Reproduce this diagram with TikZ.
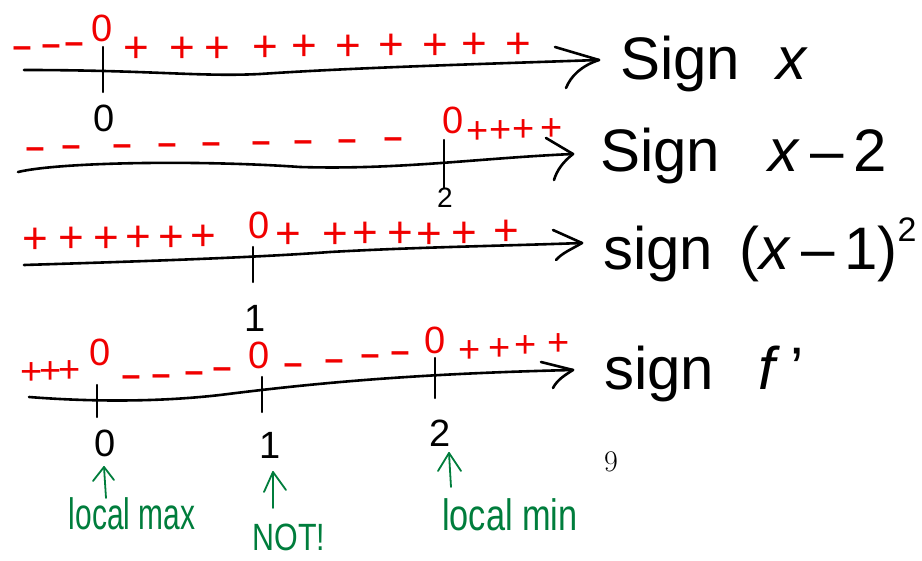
\documentclass[tikz,border=0pt]{standalone}
\usepackage{fontspec}
\newfontfamily\hand{Liberation Sans}
\usetikzlibrary{calc}
\definecolor{inkred}{RGB}{240,0,0}
\definecolor{inkgreen}{RGB}{0,125,60}
\tikzset{
 axisline/.style={line width=2.6pt, line cap=round, line join=round},
 tickline/.style={line width=2.2pt, line cap=round},
 plussign/.style={inkred, font=\hand\fontsize{44}{44}\selectfont, inner sep=0pt},
 smallplus/.style={inkred, font=\hand\fontsize{38}{38}\selectfont, inner sep=0pt},
 minussign/.style={inkred, font=\hand\bfseries\fontsize{34}{34}\selectfont, inner sep=0pt},
 redzero/.style={inkred, font=\hand\fontsize{38}{38}\selectfont, inner sep=0pt},
 ticklabel/.style={font=\hand\fontsize{38}{38}\selectfont, inner sep=0pt},
 rowlabel/.style={font=\hand\fontsize{60}{60}\selectfont, inner sep=0pt, anchor=base west},
 greenarrow/.style={inkgreen, line width=1.8pt, line cap=round, line join=round},
 greentext/.style={inkgreen, font=\hand\fontsize{44}{44}\selectfont, inner sep=0pt},
}
\begin{document}
\begin{tikzpicture}[x=1pt,y=-1pt]
\useasboundingbox (0,0) rectangle (922,561);

% ---------- Row 1: sign x ----------
\coordinate (a1s) at (24,70);
\coordinate (a1e) at (599,60);
\draw[axisline] (a1s) .. controls (150,70) and (200,77) .. (260,74) .. controls (350,68) and (450,65) .. (a1e);
\draw[axisline] ($(a1e)+(-44,-13)$) -- (a1e) .. controls ($(a1e)+(-18,6)$) and ($(a1e)+(-28,16)$) .. ($(a1e)+(-33,28)$);
\coordinate (t1a) at (103,47); \coordinate (t1b) at (103,92);
\draw[tickline] (t1a) -- (t1b);
\node[ticklabel] (n1) at (104,118) {0};
\node[redzero] (z1) at (102,28) {0};
\foreach \x/\y [count=\i] in {22/52,51/50,74/48}
  \node[minussign] (m1-\i) at (\x,\y) {–};
\foreach \x/\y [count=\i] in {136/50,182/50,217/50,265/49,304/48,348/48,391/47,435/47,474/46,518/46}
  \node[plussign] (p1-\i) at (\x,\y) {+};
\node[rowlabel] (l1) at (620,80) {Sign\hspace{36pt}\textit{x}};

% ---------- Row 2: sign x-2 ----------
\coordinate (a2s) at (18,172);
\coordinate (a2e) at (573,154);
\draw[axisline] (a2s) .. controls (60,162) and (200,160) .. (300,167) .. controls (400,170) and (480,158) .. (a2e);
\draw[axisline] ($(a2e)+(-27,-16)$) -- (a2e) .. controls ($(a2e)+(-10,8)$) and ($(a2e)+(-16,16)$) .. ($(a2e)+(-19,26)$);
\coordinate (t2a) at (444,140); \coordinate (t2b) at (444,188);
\draw[tickline] (t2a) -- (t2b);
\node[ticklabel, font=\hand\fontsize{28}{28}\selectfont] (n2) at (445,198) {2};
\node[redzero] (z2) at (453,120) {0};
\foreach \x/\y [count=\i] in {35/153,71/151,122/150,167/149,211/148,261/147,303/146,347/145,393/143}
  \node[minussign] (m2-\i) at (\x,\y) {–};
\foreach \x/\y [count=\i] in {478/133,501/132,524/131,552/130}
  \node[smallplus] (p2-\i) at (\x,\y) {+};
\node[rowlabel] (l2) at (600,172) {Sign\hspace{48pt}\textit{x}\,–\,2};

% ---------- Row 3: sign (x-1)^2 ----------
\coordinate (a3s) at (24,265);
\coordinate (a3e) at (582,243);
\draw[axisline] (a3s) .. controls (120,262) and (250,258) .. (330,252) .. controls (420,247) and (500,246) .. (a3e);
\draw[axisline] ($(a3e)+(-29,-13)$) -- (a3e) .. controls ($(a3e)+(-10,6)$) and ($(a3e)+(-20,10)$) .. ($(a3e)+(-26,17)$);
\coordinate (t3a) at (253,247); \coordinate (t3b) at (253,282);
\draw[tickline] (t3a) -- (t3b);
\node[ticklabel] (n3) at (255,318) {1};
\node[redzero] (z3) at (259,225) {0};
\foreach \x/\y [count=\i] in {35/241,71/240,106/240,138/239,171/239,203/238}
  \node[plussign] (p3-\i) at (\x,\y) {+};
\foreach \x/\y [count=\i] in {288/236,335/236,365/235,400/235,429/236,464/235,506/233}
  \node[plussign] (q3-\i) at (\x,\y) {+};
\node[rowlabel] (l3) at (603,270) {sign\hspace{26pt}(\textit{x}\,–\,1)\raisebox{28pt}{\fontsize{34}{34}\selectfont 2}};

% ---------- Row 4: sign f' ----------
\coordinate (a4s) at (29,397);
\coordinate (a4e) at (573,370);
\draw[axisline] (a4s) .. controls (80,401) and (150,403) .. (220,395) .. controls (300,385) and (400,374) .. (a4e);
\draw[axisline] ($(a4e)+(-32,-8)$) -- (a4e) .. controls ($(a4e)+(-8,5)$) and ($(a4e)+(-16,10)$) .. ($(a4e)+(-20,18)$);
\coordinate (t4a) at (97,385);  \coordinate (t4b) at (97,417);
\coordinate (t5a) at (262,377); \coordinate (t5b) at (262,412);
\coordinate (t6a) at (435,358); \coordinate (t6b) at (435,398);
\draw[tickline] (t4a) -- (t4b);
\draw[tickline] (t5a) -- (t5b);
\draw[tickline] (t6a) -- (t6b);
\node[ticklabel] (n4) at (105,443) {0};
\node[ticklabel] (n5) at (270,445) {1};
\node[ticklabel] (n6) at (440,433) {2};
\node[redzero] (z4) at (100,352) {0};
\node[redzero] (z5) at (259,355) {0};
\node[redzero] (z6) at (435,340) {0};
\foreach \x/\y [count=\i] in {32/374,51/373,70/372}
  \node[smallplus] (p4-\i) at (\x,\y) {+};
\foreach \x/\y [count=\i] in {131/381,161/380,194/377,222/373}
  \node[minussign] (m4-\i) at (\x,\y) {–};
\foreach \x/\y [count=\i] in {293/369,334/365,370/360,400/357}
  \node[minussign] (m5-\i) at (\x,\y) {–};
\foreach \x/\y [count=\i] in {470/352,500/350,526/347,559/345}
  \node[smallplus] (q4-\i) at (\x,\y) {+};
\node[rowlabel] (l4) at (604,390) {sign\hspace{44pt}\textit{f}\,’};

% page number
\node[font=\rmfamily\fontsize{30}{30}\selectfont, inner sep=0pt] (pg) at (611,462) {9};

% ---------- green annotations ----------
\coordinate (g1b) at (106,498); \coordinate (g1t) at (104,467);
\coordinate (g2b) at (273,508); \coordinate (g2t) at (273,472);
\coordinate (g3b) at (451,487); \coordinate (g3t) at (449,453);
\draw[greenarrow] (g1b) -- (g1t);
\draw[greenarrow] ($(g1t)+(-11,14)$) -- (g1t) -- ($(g1t)+(10,13)$);
\draw[greenarrow] (g2b) -- (g2t);
\draw[greenarrow] ($(g2t)+(-9,20)$) -- (g2t) -- ($(g2t)+(13,18)$);
\draw[greenarrow] (g3b) -- (g3t);
\draw[greenarrow] ($(g3t)+(-11,18)$) -- (g3t) -- ($(g3t)+(12,18)$);
\node[greentext] (c1) at (132,514) {\scalebox{0.68}[1]{local max}};
\node[greentext, font=\hand\fontsize{38}{38}\selectfont] (c2) at (289,537) {\scalebox{0.8}[1]{NOT!}};
\node[greentext] (c3) at (510,515) {\scalebox{0.78}[1]{local min}};
\end{tikzpicture}
\end{document}
